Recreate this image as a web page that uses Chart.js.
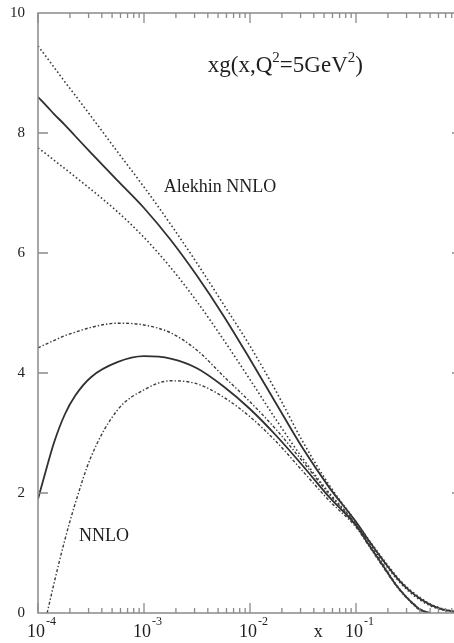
<!DOCTYPE html>
<html>
<head>
<meta charset="utf-8">
<script src="https://cdn.jsdelivr.net/npm/chart.js@4.4.1/dist/chart.umd.min.js"></script>
<style>
  html, body { margin: 0; padding: 0; background: #fff; overflow: hidden; }
  #wrap { width: 470px; height: 643px; }
</style>
</head>
<body>
<div id="wrap"><canvas id="c" width="470" height="643"></canvas></div>
<script>
// Momentum fraction x (log axis)
const xValues = [1e-4, 1.22e-4, 1.41e-4, 1.78e-4, 2.24e-4, 3.16e-4, 5.6e-4, 1e-3, 1.78e-3, 3.16e-3,
                 5.6e-3, 0.01, 0.0178, 0.0316, 0.056, 0.1, 0.133, 0.178, 0.25, 0.316,
                 0.4, 0.5, 0.63, 0.79, 1];

// Alekhin NNLO gluon: central value and error band
const alekhinCentral = [8.6, 8.44, 8.32, 8.14, 7.95, 7.67, 7.21, 6.75, 6.22, 5.62,
                        4.96, 4.23, 3.48, 2.74, 2.09, 1.52, 1.2, 0.89, 0.56, 0.38,
                        0.24, 0.14, 0.07, 0.03, 0];
const alekhinUpper   = [9.45, 9.25, 9.1, 8.86, 8.63, 8.28, 7.69, 7.1, 6.48, 5.83,
                        5.15, 4.45, 3.68, 2.85, 2.13, 1.52, 1.21, 0.91, 0.58, 0.4,
                        0.26, 0.15, 0.08, 0.035, 0];
const alekhinLower   = [7.75, 7.64, 7.55, 7.41, 7.27, 7.06, 6.69, 6.26, 5.76, 5.19,
                        4.56, 3.89, 3.21, 2.57, 2.0, 1.49, 1.18, 0.87, 0.54, 0.36,
                        0.22, 0.12, 0.06, 0.025, 0];

// NNLO gluon: central value and error band
const nnloCentral = [1.9, 2.45, 2.83, 3.3, 3.62, 3.93, 4.18, 4.28, 4.24, 4.08,
                     3.78, 3.4, 2.95, 2.45, 1.93, 1.46, 1.13, 0.8, 0.42, 0.22,
                     0.06, 0, null, null, null];
const nnloUpper   = [4.42, 4.49, 4.54, 4.62, 4.68, 4.76, 4.83, 4.8, 4.67, 4.38,
                     3.95, 3.52, 3.05, 2.52, 1.98, 1.48, 1.15, 0.82, 0.43, 0.23,
                     0.07, 0, null, null, null];
const nnloLower   = [null, 0, 0.48, 1.2, 1.82, 2.6, 3.38, 3.72, 3.87, 3.82,
                     3.6, 3.27, 2.85, 2.36, 1.87, 1.43, 1.11, 0.78, 0.41, 0.21,
                     0.05, 0, null, null, null];

// Axis ticks
const yTickValues = [0, 2, 4, 6, 8, 10];
const xDecades = [-4, -3, -2, -1];

const serif = "'Liberation Serif', 'DejaVu Serif', serif";
const ink = '#1e1e1e';
const frameColor = '#8a8a8a';

function pts(ys) {
  return xValues.map((x, i) => ({ x: x, y: ys[i] }));
}

function curve(label, ys, dash, width) {
  return {
    label: label,
    data: pts(ys),
    borderColor: dash ? '#3c3c3c' : '#303030',
    borderWidth: width,
    borderDash: dash || [],
    pointRadius: 0,
    fill: false,
    cubicInterpolationMode: 'monotone',
    spanGaps: false
  };
}

const dotted = [1.6, 2.4];
const dashDot = [3, 2, 1.4, 2];

// Frame with inward ticks, decade labels and text annotations
const framePlugin = {
  id: 'framePlugin',
  afterDraw(chart) {
    const { ctx, chartArea: a, scales } = chart;
    const xs = scales.x, ys = scales.y;
    ctx.save();
    ctx.strokeStyle = frameColor;
    ctx.lineWidth = 1.5;
    ctx.strokeRect(a.left, a.top, a.right - a.left, a.bottom - a.top);

    ctx.lineWidth = 1.3;
    ctx.beginPath();
    const eMin = Math.round(Math.log10(xs.min));
    const eMax = Math.round(Math.log10(xs.max));
    for (let e = eMin; e < eMax; e++) {
      for (let m = 1; m <= 9; m++) {
        const px = xs.getPixelForValue(m * Math.pow(10, e));
        const len = m === 1 ? 10 : 5;
        ctx.moveTo(px, a.bottom); ctx.lineTo(px, a.bottom - len);
        ctx.moveTo(px, a.top); ctx.lineTo(px, a.top + len);
      }
    }
    ys.ticks.forEach(t => {
      if (t.value <= ys.min || t.value >= ys.max) return;
      const py = ys.getPixelForValue(t.value);
      ctx.moveTo(a.left, py); ctx.lineTo(a.left + 10, py);
      ctx.moveTo(a.right, py); ctx.lineTo(a.right - 10, py);
    });
    ctx.stroke();

    // decade labels 10^n
    ctx.fillStyle = ink;
    ctx.textBaseline = 'alphabetic';
    xDecades.forEach(e => {
      const px = xs.getPixelForValue(Math.pow(10, e));
      ctx.font = '18px ' + serif;
      ctx.textAlign = 'right';
      ctx.fillText('10', px + 7, a.bottom + 24);
      ctx.font = '12px ' + serif;
      ctx.textAlign = 'left';
      ctx.fillText(String(e), px + 8, a.bottom + 12);
    });
    // axis name
    ctx.font = '18px ' + serif;
    ctx.textAlign = 'center';
    ctx.fillText('x', xs.getPixelForValue(0.044), a.bottom + 24);

    // curve labels
    ctx.font = '18px ' + serif;
    ctx.textAlign = 'center';
    ctx.textBaseline = 'middle';
    ctx.fillText('Alekhin NNLO', xs.getPixelForValue(5.2e-3), ys.getPixelForValue(7.1));
    ctx.fillText('NNLO', xs.getPixelForValue(4.2e-4), ys.getPixelForValue(1.28));

    // title xg(x,Q²=5GeV²)
    ctx.textBaseline = 'alphabetic';
    ctx.textAlign = 'left';
    const parts = [['xg(x,Q', false], ['2', true], ['=5GeV', false], ['2', true], [')', false]];
    let tx = xs.getPixelForValue(4.0e-3);
    const base = ys.getPixelForValue(9.02);
    parts.forEach(([t, sup]) => {
      ctx.font = (sup ? '15px ' : '23px ') + serif;
      ctx.fillText(t, tx, sup ? base - 10 : base);
      tx += ctx.measureText(t).width;
    });
    ctx.restore();
  }
};

new Chart(document.getElementById('c'), {
  type: 'line',
  data: {
    datasets: [
      curve('Alekhin NNLO upper', alekhinUpper, dotted, 1.6),
      curve('Alekhin NNLO lower', alekhinLower, dotted, 1.6),
      curve('NNLO upper', nnloUpper, dashDot, 1.4),
      curve('NNLO lower', nnloLower, dashDot, 1.4),
      curve('Alekhin NNLO', alekhinCentral, null, 1.8),
      curve('NNLO', nnloCentral, null, 1.8)
    ]
  },
  options: {
    responsive: false,
    animation: false,
    devicePixelRatio: 1,
    layout: { padding: { top: 13, right: 8, left: 0, bottom: 0 } },
    plugins: { legend: { display: false }, tooltip: { enabled: false } },
    scales: {
      x: {
        type: 'logarithmic',
        min: 1e-4,
        max: 1,
        grid: { display: false },
        border: { display: false },
        ticks: { display: false },
        afterFit: s => { s.height = 30; s.paddingLeft = 0; s.paddingRight = 0; }
      },
      y: {
        type: 'linear',
        min: 0,
        max: 10,
        grid: { display: false },
        border: { display: false },
        afterBuildTicks: s => { s.ticks = yTickValues.map(v => ({ value: v })); },
        ticks: {
          padding: 5,
          color: '#222',
          font: { family: serif, size: 15 }
        },
        afterFit: s => { s.width = 38; s.paddingTop = 0; s.paddingBottom = 0; }
      }
    }
  },
  plugins: [framePlugin]
});
</script>
</body>
</html>
